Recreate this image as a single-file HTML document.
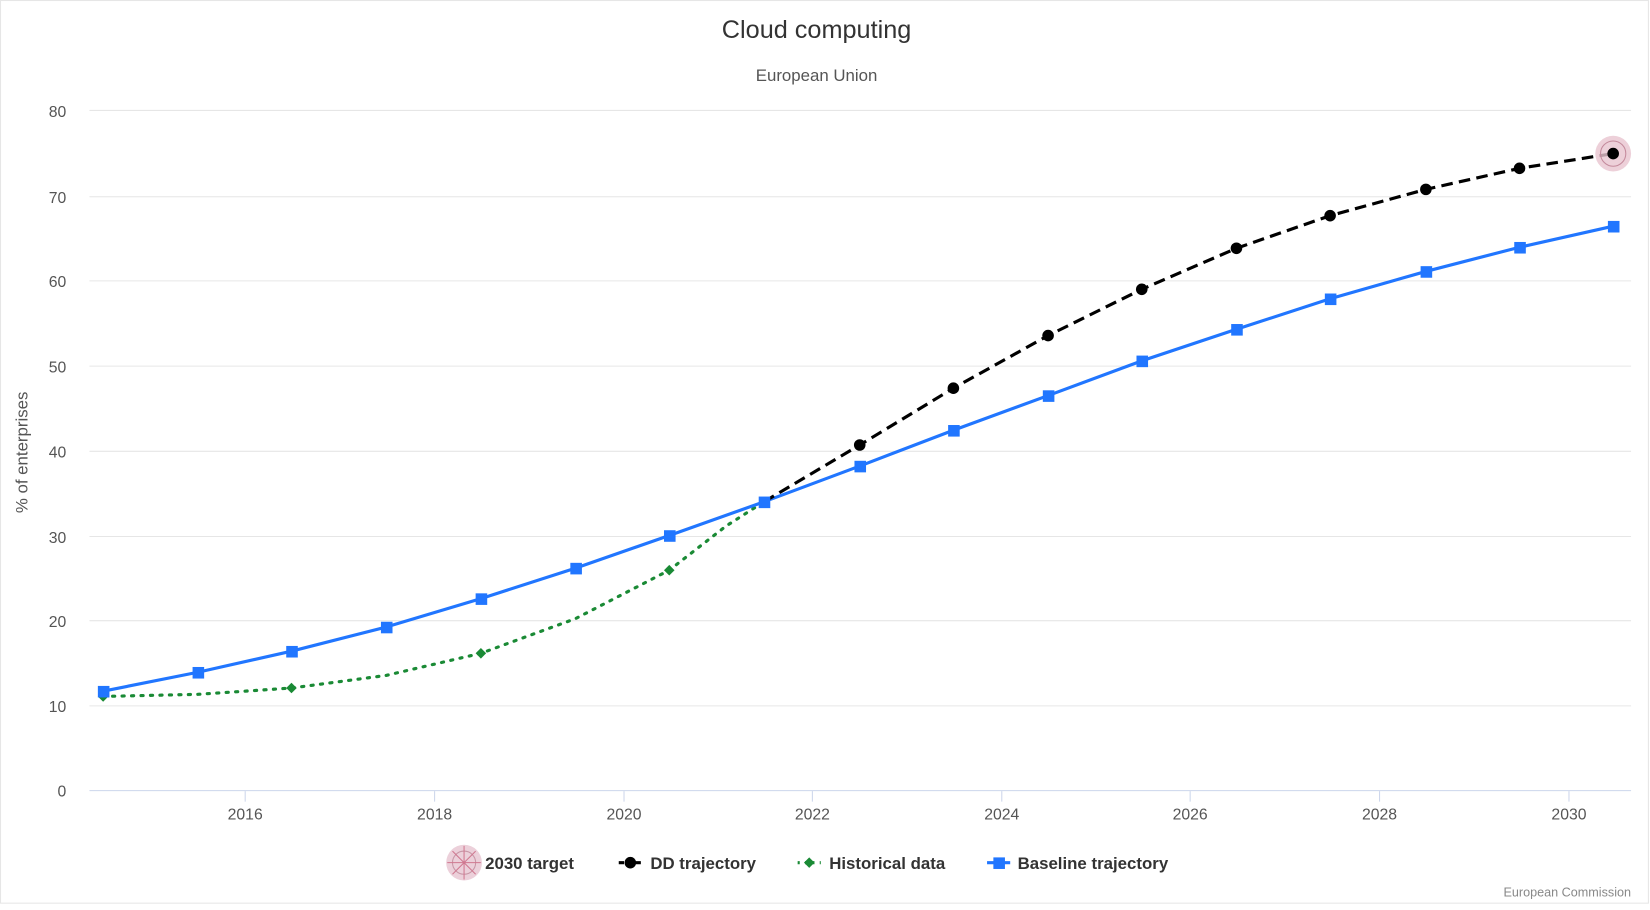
<!DOCTYPE html>
<html><head><style>
html,body{margin:0;padding:0;background:#fff;}
svg{display:block;font-family:"Liberation Sans",sans-serif;}
</style></head><body>
<svg width="1650" height="910" viewBox="0 0 1568 865" preserveAspectRatio="none">
<rect x="0" y="0" width="1568" height="865" fill="#fff"/>
<rect x="0.5" y="0.5" width="1566" height="858" fill="none" stroke="#e6e6e6"/>
<text x="776" y="36" text-anchor="middle" font-size="24" fill="#333">Cloud computing</text>
<text x="776" y="77" text-anchor="middle" font-size="16" fill="#555">European Union</text>
<g stroke="#e6e6e6" stroke-width="1">
<line x1="85" x2="1550" y1="105" y2="105"/><line x1="85" x2="1550" y1="187" y2="187"/>
<line x1="85" x2="1550" y1="267" y2="267"/><line x1="85" x2="1550" y1="348" y2="348"/>
<line x1="85" x2="1550" y1="429" y2="429"/><line x1="85" x2="1550" y1="510" y2="510"/>
<line x1="85" x2="1550" y1="590" y2="590"/><line x1="85" x2="1550" y1="671" y2="671"/>
</g>
<line x1="85" x2="1550" y1="751.5" y2="751.5" stroke="#ccd6eb"/>
<g stroke="#ccd6eb"><line x1="233" x2="233" y1="752" y2="762"/><line x1="413" x2="413" y1="752" y2="762"/><line x1="593" x2="593" y1="752" y2="762"/><line x1="772" x2="772" y1="752" y2="762"/><line x1="952" x2="952" y1="752" y2="762"/><line x1="1131" x2="1131" y1="752" y2="762"/><line x1="1311" x2="1311" y1="752" y2="762"/><line x1="1491" x2="1491" y1="752" y2="762"/></g>
<g font-size="15" fill="#555" text-anchor="end">
<text x="63" y="111">80</text><text x="63" y="193">70</text><text x="63" y="273">60</text><text x="63" y="354">50</text><text x="63" y="435">40</text><text x="63" y="516">30</text><text x="63" y="596">20</text><text x="63" y="677">10</text><text x="63" y="757">0</text>
</g>
<g font-size="15" fill="#555" text-anchor="middle">
<text x="233" y="779">2016</text><text x="413" y="779">2018</text><text x="593" y="779">2020</text><text x="772" y="779">2022</text><text x="952" y="779">2024</text><text x="1131" y="779">2026</text><text x="1311" y="779">2028</text><text x="1491" y="779">2030</text>
</g>
<text transform="translate(26,430) rotate(-90)" text-anchor="middle" font-size="16" fill="#555">% of enterprises</text>
<polyline fill="none" stroke="#1a8a35" stroke-width="3" stroke-dasharray="2,7" stroke-linecap="round" points="98,662 188,660 277,654 367,642 457,621 547,588 636,542 690,500 726,477"/>
<polyline fill="none" stroke="#2176ff" stroke-width="3" points="98,657 188,639 277,619 367,596 457,569 547,540 636,509 726,477 817,443 906,409 996,376 1085,343 1175,313 1264,284 1355,258 1444,235 1533,215"/>
<polyline fill="none" stroke="#000" stroke-width="3" stroke-dasharray="11,6" points="726,477 817,423 906,369 996,319 1085,275 1175,236 1264,205 1355,180 1444,160 1533,146"/>
<g fill="#1a8a35"><path d="M98,657l5,5-5,5-5-5z"/><path d="M277,649l5,5-5,5-5-5z"/><path d="M457,616l5,5-5,5-5-5z"/><path d="M636,537l5,5-5,5-5-5z"/></g>
<g fill="#2176ff">
<rect x="93" y="652" width="11" height="11"/><rect x="183" y="634" width="11" height="11"/><rect x="272" y="614" width="11" height="11"/><rect x="362" y="591" width="11" height="11"/><rect x="452" y="564" width="11" height="11"/><rect x="542" y="535" width="11" height="11"/><rect x="631" y="504" width="11" height="11"/><rect x="721" y="472" width="11" height="11"/><rect x="812" y="438" width="11" height="11"/><rect x="901" y="404" width="11" height="11"/><rect x="991" y="371" width="11" height="11"/><rect x="1080" y="338" width="11" height="11"/><rect x="1170" y="308" width="11" height="11"/><rect x="1259" y="279" width="11" height="11"/><rect x="1350" y="253" width="11" height="11"/><rect x="1439" y="230" width="11" height="11"/><rect x="1528" y="210" width="11" height="11"/>
</g>
<g fill="#000">
<circle cx="817" cy="423" r="5.5"/><circle cx="906" cy="369" r="5.5"/><circle cx="996" cy="319" r="5.5"/><circle cx="1085" cy="275" r="5.5"/><circle cx="1175" cy="236" r="5.5"/><circle cx="1264" cy="205" r="5.5"/><circle cx="1355" cy="180" r="5.5"/><circle cx="1444" cy="160" r="5.5"/>
</g>
<circle cx="1533" cy="146" r="17" fill="#e9c4d0" opacity="0.8"/>
<circle cx="1533" cy="146" r="12" fill="none" stroke="#c48a9c" stroke-width="1"/>
<circle cx="1533" cy="146" r="5.5" fill="#000"/>
<!-- legend -->
<circle cx="441" cy="820" r="17" fill="#ecd0da"/>
<circle cx="441" cy="820" r="11" fill="none" stroke="#c896a6"/>
<path d="M441,804v32M425,820h32M430,809l22,22M452,809l-22,22" stroke="#d07890" stroke-width="1"/>
<text x="461" y="826" font-size="16" font-weight="bold" fill="#333">2030 target</text>
<line x1="588" x2="610" y1="820" y2="820" stroke="#000" stroke-width="3" stroke-dasharray="5,3"/>
<circle cx="599" cy="820" r="5.5" fill="#000"/>
<text x="618" y="826" font-size="16" font-weight="bold" fill="#333">DD trajectory</text>
<line x1="758" x2="780" y1="820" y2="820" stroke="#1a8a35" stroke-width="3" stroke-dasharray="2,5"/>
<path d="M769,815l5,5-5,5-5-5z" fill="#1a8a35"/>
<text x="788" y="826" font-size="16" font-weight="bold" fill="#333">Historical data</text>
<line x1="938" x2="960" y1="820" y2="820" stroke="#2176ff" stroke-width="3"/>
<rect x="944" y="815" width="11" height="11" fill="#2176ff"/>
<text x="967" y="826" font-size="16" font-weight="bold" fill="#333">Baseline trajectory</text>
<text x="1550" y="852" text-anchor="end" font-size="12" fill="#888">European Commission</text>
</svg>
</body></html>
